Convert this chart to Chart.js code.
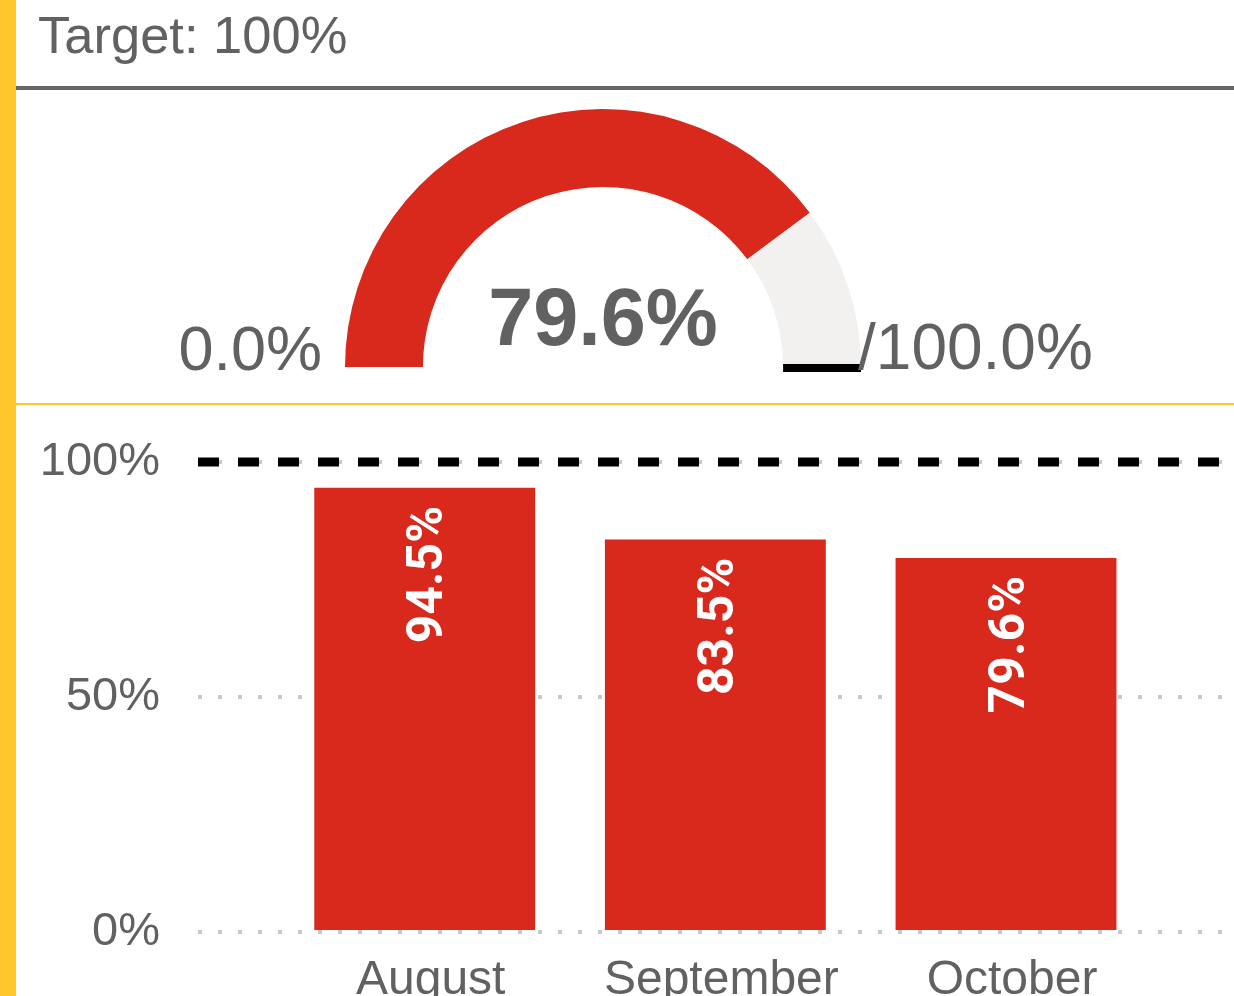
<!DOCTYPE html>
<html>
<head>
<meta charset="utf-8">
<script src="https://cdn.jsdelivr.net/npm/chart.js@4"></script>
<style>
  html, body { margin: 0; padding: 0; background: #fff; }
  body { width: 1234px; height: 996px; overflow: hidden; position: relative; font-family: "Liberation Sans", Arial, sans-serif; }
  #side { position: absolute; left: 0; top: 0; width: 16px; height: 996px; background: #ffc72c; }
  #title { position: absolute; left: 38px; top: 9px; font-size: 52.5px; line-height: 1; color: #616161; white-space: nowrap; }
  #rule { position: absolute; left: 16px; right: 0; top: 86px; height: 4px; background: #666; }
  #sep { position: absolute; left: 16px; right: 0; top: 403px; height: 2px; background: #ffc72c; }
  #gauge { position: absolute; left: 16px; top: 92px; }
  #bars { position: absolute; left: 16px; top: 405px; }
</style>
</head>
<body>
<div id="side"></div>
<div id="title">Target: 100%</div>
<div id="rule"></div>
<canvas id="gauge" width="1218" height="310"></canvas>
<div id="sep"></div>
<canvas id="bars" width="1218" height="597"></canvas>

<script>
// ---- donnees ----
const TARGET = 100;
const CURRENT = 79.6;
const GAUGE_MIN = 0;
const MONTHS = ["August", "September", "October"];
const VALUES = [94.5, 83.5, 79.6];
const Y_TICKS = [0, 50, 100];

const RED = '#d9291c';
const REST = '#f2f1f0';
const TEXT = '#616161';
const FONT = '"Liberation Sans", Arial, sans-serif';

// ---- jauge ----
const gaugeText = {
  id: 'gaugeText',
  afterDatasetsDraw(chart) {
    const arc = chart.getDatasetMeta(0).data[1];
    const { x, y, innerRadius, outerRadius, endAngle } = arc;
    const ctx = chart.ctx;
    ctx.save();
    // marqueur de la cible
    ctx.strokeStyle = '#000';
    ctx.lineWidth = 8;
    ctx.beginPath();
    ctx.moveTo(x + Math.cos(endAngle) * innerRadius, y + 1 + Math.sin(endAngle) * innerRadius);
    ctx.lineTo(x + Math.cos(endAngle) * outerRadius, y + 1 + Math.sin(endAngle) * outerRadius);
    ctx.stroke();

    ctx.fillStyle = TEXT;
    ctx.textBaseline = 'alphabetic';
    ctx.font = '63px ' + FONT;
    ctx.textAlign = 'right';
    ctx.fillText(GAUGE_MIN.toFixed(1) + '%', x - outerRadius - 23, y + 3);
    ctx.font = '64px ' + FONT;
    ctx.textAlign = 'left';
    ctx.fillText('/' + TARGET.toFixed(1) + '%', x + outerRadius - 3, y + 2);
    ctx.font = 'bold 81px ' + FONT;
    ctx.textAlign = 'center';
    ctx.fillText(CURRENT.toFixed(1) + '%', x, y - 22);
    ctx.restore();
  }
};

new Chart(document.getElementById('gauge'), {
  type: 'doughnut',
  data: {
    datasets: [{
      data: [CURRENT, TARGET - CURRENT],
      backgroundColor: [RED, REST],
      borderWidth: 0,
      hoverOffset: 0,
      offset: 0
    }]
  },
  options: {
    responsive: false,
    animation: false,
    events: [],
    rotation: -90,
    circumference: 180,
    cutout: '69.8%',
    layout: { padding: { top: 17, bottom: 35, left: 329, right: 373 } },
    plugins: { legend: { display: false }, tooltip: { enabled: false } }
  },
  plugins: [gaugeText]
});

// ---- barres ----
const targetLine = {
  id: 'targetLine',
  beforeDatasetsDraw(chart) {
    const { ctx, chartArea, scales } = chart;
    const y = scales.y.getPixelForValue(TARGET);
    ctx.save();
    ctx.strokeStyle = '#000';
    ctx.lineWidth = 9;
    ctx.setLineDash([21, 19]);
    ctx.beginPath();
    ctx.moveTo(chartArea.left, y);
    ctx.lineTo(chartArea.right, y);
    ctx.stroke();
    ctx.restore();
  }
};

const barLabels = {
  id: 'barLabels',
  afterDatasetsDraw(chart) {
    const ctx = chart.ctx;
    chart.getDatasetMeta(0).data.forEach((bar, i) => {
      ctx.save();
      ctx.translate(bar.x, bar.y + 18);
      ctx.rotate(-Math.PI / 2);
      ctx.fillStyle = '#fff';
      ctx.font = 'bold 50px Roboto, ' + FONT;
      ctx.textAlign = 'right';
      ctx.textBaseline = 'middle';
      ctx.fillText(VALUES[i].toFixed(1) + '%', 0, 5);
      ctx.restore();
    });
  }
};

new Chart(document.getElementById('bars'), {
  type: 'bar',
  data: {
    datasets: [{
      data: MONTHS.map((m, i) => ({ x: i, y: VALUES[i] })),
      backgroundColor: RED,
      borderWidth: 0,
      barPercentage: 0.76,
      categoryPercentage: 1
    }]
  },
  options: {
    responsive: false,
    animation: false,
    events: [],
    layout: { padding: { top: 57, left: 23, right: 10, bottom: 0 } },
    plugins: { legend: { display: false }, tooltip: { enabled: false } },
    scales: {
      x: {
        type: 'linear',
        offset: false,
        min: -0.78,
        max: 2.75,
        afterBuildTicks: s => { s.ticks = MONTHS.map((m, i) => ({ value: i })); },
        afterFit: s => { s.height = 70; s.paddingLeft = 0; s.paddingRight = 0; },
        grid: { display: false, drawTicks: false },
        border: { display: false },
        ticks: {
          callback: v => MONTHS[v],
          color: TEXT,
          font: { size: 48, family: FONT },
          padding: 20,
          labelOffset: 6,
          maxRotation: 0,
          autoSkip: false
        }
      },
      y: {
        min: 0,
        max: 100,
        afterBuildTicks: s => { s.ticks = Y_TICKS.map(v => ({ value: v })); },
        afterFit: s => { s.width = 159; s.paddingTop = 0; s.paddingBottom = 0; },
        grid: { color: '#c8c8c8', lineWidth: 4, drawTicks: false },
        border: { display: false, dash: [4, 16] },
        ticks: {
          callback: v => v + '%',
          color: TEXT,
          font: { size: 47, family: FONT },
          padding: 38
        }
      }
    }
  },
  plugins: [targetLine, barLabels]
});
</script>
</body>
</html>
